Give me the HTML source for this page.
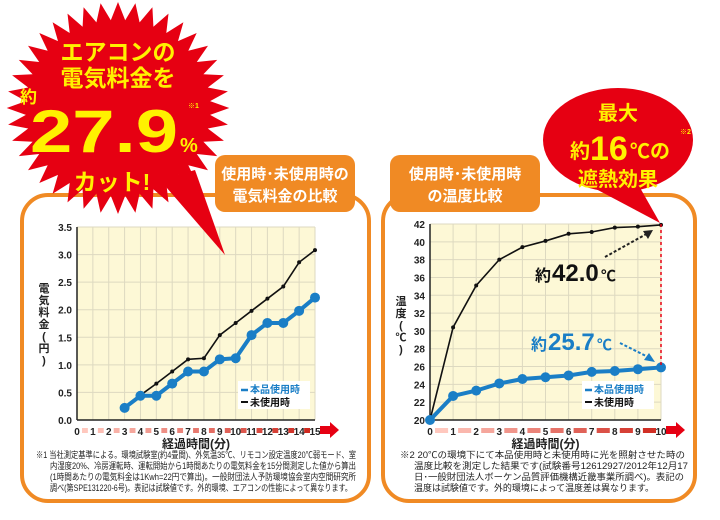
<!DOCTYPE html>
<html><head><meta charset="utf-8"><style>
body{margin:0;width:720px;height:515px;overflow:hidden;background:#fff;font-family:"Liberation Sans","Noto Sans CJK JP",sans-serif}
svg text{font-family:"Liberation Sans","Noto Sans CJK JP",sans-serif}
</style></head><body>
<svg id="s" width="720" height="515" viewBox="0 0 720 515">
<rect x="22" y="195" width="347" height="306" rx="26" fill="#fff" stroke="#f08a24" stroke-width="4"/>
<rect x="383" y="195" width="312" height="306" rx="26" fill="#fff" stroke="#f08a24" stroke-width="4"/>
<g id="left"></g>
<g id="right"></g>
<polygon id="burst" fill="#e60012"/>
<g fill="#fff100" font-weight="bold">
<text x="118" y="60" font-size="23" text-anchor="middle">エアコンの</text>
<text x="118" y="86" font-size="23" text-anchor="middle">電気料金を</text>
<text x="20" y="103" font-size="17">約</text>
<text x="30" y="152" font-size="60" font-weight="900" textLength="148" lengthAdjust="spacingAndGlyphs">27.9</text>
<text x="180" y="152" font-size="20">%</text>
<text x="188" y="108" font-size="7">※1</text>
<text x="112" y="190" font-size="23" text-anchor="middle">カット!</text>
</g>
<rect x="215" y="155" width="140" height="57" rx="10" fill="#f08a24"/>
<text x="285" y="179" font-size="15" font-weight="bold" fill="#fff" text-anchor="middle">使用時･未使用時の</text>
<text x="285" y="201" font-size="15" font-weight="bold" fill="#fff" text-anchor="middle">電気料金の比較</text>
<rect x="390" y="155" width="150" height="57" rx="10" fill="#f08a24"/>
<text x="465" y="179" font-size="15" font-weight="bold" fill="#fff" text-anchor="middle">使用時･未使用時</text>
<text x="465" y="201" font-size="15" font-weight="bold" fill="#fff" text-anchor="middle">の温度比較</text>
<path d="M560,170 L660,223 L630,170 Z" fill="#e60012"/>
<ellipse cx="618" cy="140" rx="75" ry="52" fill="#e60012"/>
<g fill="#fff100" font-weight="bold">
<text x="618" y="120" font-size="20" text-anchor="middle">最大</text>
<text x="570" y="158" font-size="20">約</text>
<text x="590" y="160" font-size="34" font-weight="900">16</text>
<text x="630" y="158" font-size="20">℃の</text>
<text x="680" y="134" font-size="7">※2</text>
<text x="618" y="186" font-size="20" text-anchor="middle">遮熱効果</text>
</g>
<g font-size="9" fill="#222">
<text x="36" y="458" textLength="320" lengthAdjust="spacingAndGlyphs">※1 当社測定基準による。環境試験室(約4畳間)、外気温35℃、リモコン設定温度20℃弱モード、室</text>
<text x="50" y="469" textLength="306" lengthAdjust="spacingAndGlyphs">内湿度20%、冷房運転時、運転開始から1時間あたりの電気料金を15分間測定した値から算出</text>
<text x="50" y="480" textLength="306" lengthAdjust="spacingAndGlyphs">(1時間あたりの電気料金は1Kwh=22円で算出)。一般財団法人予防環境協会室内空間研究所</text>
<text x="50" y="491" textLength="302" lengthAdjust="spacingAndGlyphs">調べ(第SPE131220-6号)。表記は試験値です。外的環境、エアコンの性能によって異なります。</text>
</g>
<g font-size="9" fill="#222">
<text x="400" y="458" textLength="285" lengthAdjust="spacingAndGlyphs">※2 20℃の環境下にて本品使用時と未使用時に光を照射させた時の</text>
<text x="414" y="469" textLength="274" lengthAdjust="spacingAndGlyphs">温度比較を測定した結果です(試験番号12612927/2012年12月17</text>
<text x="414" y="480" textLength="270" lengthAdjust="spacingAndGlyphs">日･一般財団法人ボーケン品質評価機構近畿事業所調べ)。表記の</text>
<text x="414" y="491" textLength="240" lengthAdjust="spacingAndGlyphs">温度は試験値です。外的環境によって温度差は異なります。</text>
</g>
</svg>
<script>
const costMinutes=[3,4,5,6,7,8,9,10,11,12,13,14,15];
const costUnused=[0.22,0.45,0.66,0.88,1.1,1.12,1.54,1.76,1.98,2.2,2.42,2.86,3.08];
const costUsed=[0.22,0.44,0.44,0.66,0.88,0.88,1.1,1.12,1.54,1.76,1.76,1.98,2.22];
const costYTicks=["0.0","0.5","1.0","1.5","2.0","2.5","3.0","3.5"];
const tempMinutes=[0,1,2,3,4,5,6,7,8,9,10];
const tempUnused=[20,30.4,35.1,38,39.4,40.1,40.9,41.1,41.6,41.7,41.9];
const tempUsed=[20,22.7,23.3,24.1,24.6,24.8,25,25.4,25.5,25.7,25.9];
const tempYTicks=[20,22,24,26,28,30,32,34,36,38,40,42];
const NS="http://www.w3.org/2000/svg";
function mk(p,t,a,txt){const e=document.createElementNS(NS,t);for(const k in a)e.setAttribute(k,a[k]);if(txt!==undefined)e.textContent=txt;p.appendChild(e);return e;}
(function(){const cx=118,cy=108,n=40;let pts=[];for(let i=0;i<n*2;i++){const r=i%2?88:106;const a=Math.PI*i/n;pts.push((cx+r*1.05*Math.cos(a)).toFixed(1)+","+(cy+r*Math.sin(a)).toFixed(1));}
document.getElementById('burst').setAttribute('points',pts.join(' '));
const s=document.getElementById('s');const t=mk(s,'path',{d:'M160,180 L225,255 L195,170 Z',fill:'#e60012'});s.insertBefore(t,document.getElementById('burst'));})();
function chart(g,o){
 const X=v=>o.x0+(v-o.xmin)/(o.xmax-o.xmin)*(o.x1-o.x0);
 const Y=v=>o.y0-(v-o.ymin)/(o.ymax-o.ymin)*(o.y0-o.y1);
 mk(g,'rect',{x:o.x0,y:o.y1,width:o.x1-o.x0,height:o.y0-o.y1,fill:'#fdf8d6'});
 o.yt.forEach(t=>{const y=Y(+t);mk(g,'line',{x1:o.x0,x2:o.x1,y1:y,y2:y,stroke:'#ddd9c0','stroke-width':1});
  const tx=mk(g,'text',{x:o.x0-5,y:y+4,'font-size':10,'font-weight':'bold','text-anchor':'end',fill:'#222'},t);
  });
 for(let v=o.xmin;v<=o.xmax;v++){const x=X(v);mk(g,'line',{x1:x,x2:x,y1:o.y1,y2:o.y0,stroke:'#ddd9c0','stroke-width':1});
  if(v<o.xmax){const c=Math.round(255*(1-0.2*(v-o.xmin)/(o.xmax-o.xmin)));const gg=Math.round(200-170*(v-o.xmin)/(o.xmax-o.xmin));
   mk(g,'rect',{x:x+5,y:o.y0+8,width:X(v+1)-x-10,height:5,fill:'rgb('+c+','+gg+','+(gg-10)+')'});}
  const tx=mk(g,'text',{x:x,y:o.y0+15,'font-size':10,'font-weight':'bold','text-anchor':'middle',fill:'#222'},v);
  }
 mk(g,'path',{d:`M${o.x1+5},${o.y0+6} L${o.x1+15},${o.y0+6} L${o.x1+15},${o.y0+2} L${o.x1+24},${o.y0+10} L${o.x1+15},${o.y0+18} L${o.x1+15},${o.y0+14} L${o.x1+5},${o.y0+14}Z`,fill:'#e60012'});
 mk(g,'line',{x1:o.x0,x2:o.x0,y1:o.y1,y2:o.y0,stroke:'#222','stroke-width':1.5});
 mk(g,'line',{x1:o.x0,x2:o.x1,y1:o.y0,y2:o.y0,stroke:'#222','stroke-width':1.5});
 const t=mk(g,'text',{x:(o.x0+o.x1)/2,y:o.y0+28,'font-size':12,'font-weight':'bold','text-anchor':'middle',fill:'#222'},'経過時間(分)');
 
 o.ylab.forEach((c,i)=>{const e=mk(g,'text',{x:o.ylx,y:o.yly+i*12,'font-size':11,'font-weight':'bold','text-anchor':'middle',fill:'#222'},c);});
 const pb=o.xs.map((v,i)=>X(v)+','+Y(o.black[i])).join(' ');
 const lb=mk(g,'polyline',{points:pb,fill:'none',stroke:'#111','stroke-width':1.6});
 o.xs.forEach((v,i)=>{const c=mk(g,'circle',{cx:X(v),cy:Y(o.black[i]),r:2,fill:'#111'});});
 const pu=o.xs.map((v,i)=>X(v)+','+Y(o.blue[i])).join(' ');
 const lu=mk(g,'polyline',{points:pu,fill:'none',stroke:'#1a7ec6','stroke-width':4});
 o.xs.forEach((v,i)=>{const c=mk(g,'circle',{cx:X(v),cy:Y(o.blue[i]),r:5,fill:'#1a7ec6'});});
 const lg=o.leg;mk(g,'rect',{x:lg[0],y:lg[1],width:72,height:28,fill:'#fff'});
 mk(g,'line',{x1:lg[0]+3,x2:lg[0]+10,y1:lg[1]+9,y2:lg[1]+9,stroke:'#1a7ec6','stroke-width':2.5});
 let e=mk(g,'text',{x:lg[0]+12,y:lg[1]+12,'font-size':10,'font-weight':'bold',fill:'#1a7ec6'},'本品使用時');
 mk(g,'line',{x1:lg[0]+3,x2:lg[0]+10,y1:lg[1]+21,y2:lg[1]+21,stroke:'#111','stroke-width':2});
 e=mk(g,'text',{x:lg[0]+12,y:lg[1]+25,'font-size':10,'font-weight':'bold',fill:'#111'},'未使用時');
 return {X,Y};
}
chart(document.getElementById('left'),{x0:77,x1:315,y0:420,y1:227,xmin:0,xmax:15,ymin:0,ymax:3.5,yt:costYTicks,xs:costMinutes,black:costUnused,blue:costUsed,leg:[238,381],ylab:['電','気','料','金','(','円',')'],ylx:44,yly:292});
const R=chart(document.getElementById('right'),{x0:430,x1:661,y0:420,y1:224,xmin:0,xmax:10,ymin:20,ymax:42,yt:tempYTicks.map(String),xs:tempMinutes,black:tempUnused,blue:tempUsed,leg:[582,381],ylab:['温','度','(','℃',')'],ylx:401,yly:305});
const g=document.getElementById('right');
mk(g,'line',{x1:R.X(10),x2:R.X(10),y1:R.Y(42),y2:R.Y(26),stroke:'#e60012','stroke-width':1.5,'stroke-dasharray':'3,3'});
mk(g,'line',{x1:605,y1:257,x2:650,y2:232,stroke:'#222','stroke-width':2,'stroke-dasharray':'3,2'});
mk(g,'path',{d:'M653,230 L643,231 L648,239Z',fill:'#222'});
let a=mk(g,'text',{x:535,y:281,'font-size':16,'font-weight':'bold',fill:'#111'},'約');
mk(g,'text',{x:552,y:281,'font-size':24,'font-weight':'bold',fill:'#111'},'42.0');
mk(g,'text',{x:601,y:281,'font-size':15,'font-weight':'bold',fill:'#111'},'℃');
a=mk(g,'text',{x:531,y:350,'font-size':16,'font-weight':'bold',fill:'#1a7ec6'},'約');
mk(g,'text',{x:548,y:350,'font-size':24,'font-weight':'bold',fill:'#1a7ec6'},'25.7');
mk(g,'text',{x:597,y:350,'font-size':15,'font-weight':'bold',fill:'#1a7ec6'},'℃');
mk(g,'line',{x1:620,y1:343,x2:650,y2:358,stroke:'#1a7ec6','stroke-width':2,'stroke-dasharray':'3,2'});
mk(g,'path',{d:'M655,362 L644,360 L649,353Z',fill:'#1a7ec6'});
</script>
</body></html>
